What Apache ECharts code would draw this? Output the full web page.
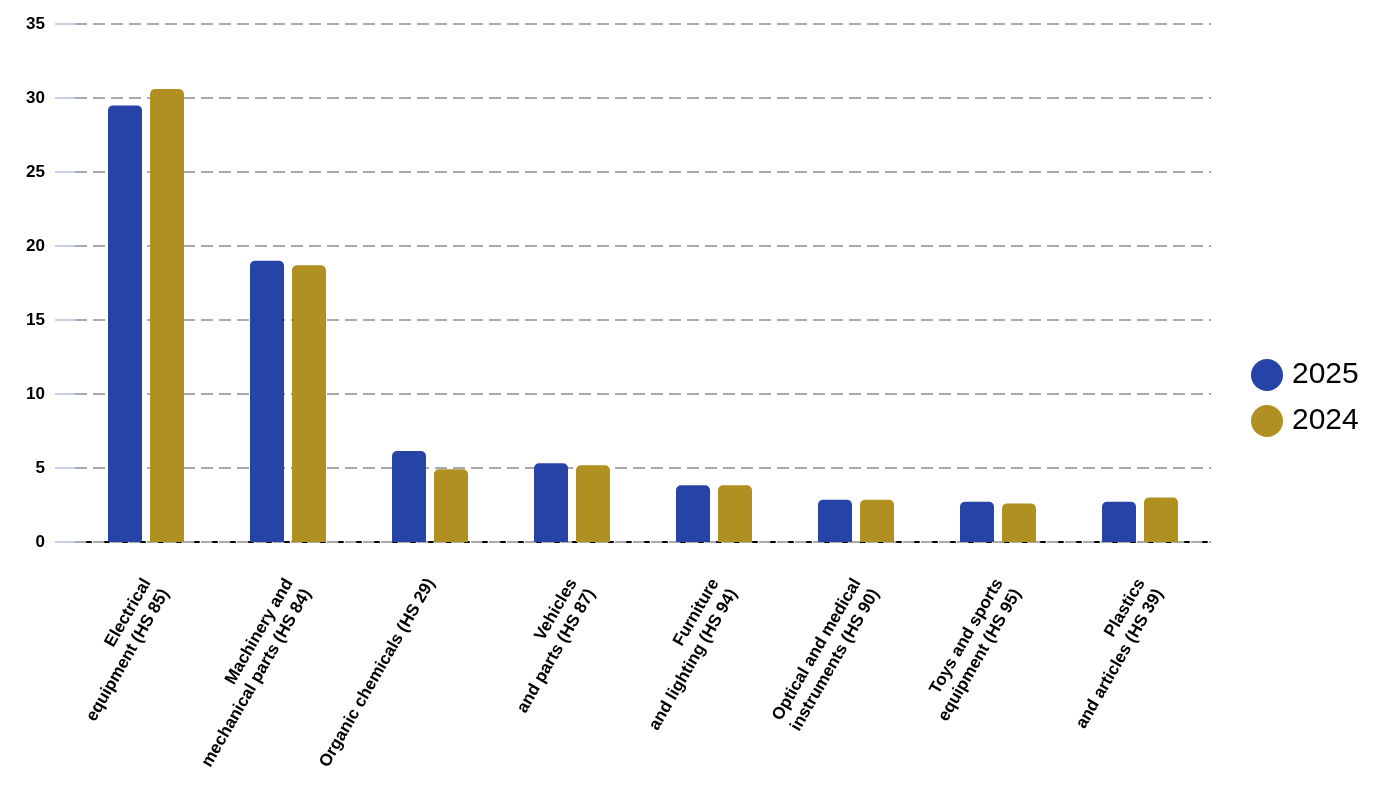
<!DOCTYPE html>
<html>
<head>
<meta charset="utf-8">
<script src="https://cdn.jsdelivr.net/npm/echarts@6/dist/echarts.min.js"></script>
<style>
  html, body { margin: 0; padding: 0; background: #fff; }
  #chart { width: 1381px; height: 788px; }
</style>
</head>
<body>
<div id="chart"></div>
<script>
// categories and values
const categories = [
  'Electrical\nequipment (HS 85)',
  'Machinery and\nmechanical parts (HS 84)',
  'Organic chemicals (HS 29)',
  'Vehicles\nand parts (HS 87)',
  'Furniture\nand lighting (HS 94)',
  'Optical and medical\ninstruments (HS 90)',
  'Toys and sports\nequipment (HS 95)',
  'Plastics\nand articles (HS 39)'
];
const values2025 = [29.5, 19.0, 6.15, 5.32, 3.83, 2.86, 2.72, 2.72];
const values2024 = [30.6, 18.7, 4.92, 5.18, 3.83, 2.86, 2.6, 3.0];
const seriesNames = ['2025', '2024'];
const yTicks = {min: 0, max: 35, interval: 5};

const font = 'Liberation Sans, Arial, sans-serif';
const chart = echarts.init(document.getElementById('chart'), null, {renderer: 'canvas'});

chart.setOption({
  animation: false,
  color: ['#2644A8', '#B09020'],
  grid: {left: 75, right: 170, top: 24, bottom: 246},
  legend: {
    orient: 'vertical',
    left: 1246,
    top: 354,
    icon: 'circle',
    itemWidth: 32,
    itemHeight: 32,
    itemGap: 14,
    textStyle: {fontSize: 30, color: '#000', fontFamily: font, padding: [0, 0, 0, 4]},
    data: seriesNames
  },
  xAxis: {
    type: 'category',
    data: categories,
    axisLine: {lineStyle: {color: '#000', width: 2, type: [4, 14], dashOffset: -12}},
    axisTick: {alignWithLabel: true, length: 20, lineStyle: {color: '#c8d2e6', width: 2}},
    axisLabel: {
      rotate: 60,
      margin: 19,
      padding: [0, 16, 0, 0],
      verticalAlign: 'top',
      interval: 0,
      fontSize: 17,
      lineHeight: 21,
      fontWeight: 'bold',
      color: '#000',
      fontFamily: font
    }
  },
  yAxis: {
    type: 'value',
    min: yTicks.min,
    max: yTicks.max,
    interval: yTicks.interval,
    axisLine: {show: false},
    axisTick: {show: true, length: 20, lineStyle: {color: '#c8d2e6', width: 2}},
    axisLabel: {margin: 30, fontSize: 17, fontWeight: 'bold', color: '#000', fontFamily: font},
    splitLine: {lineStyle: {color: '#aaaaaa', width: 2, type: [12, 6]}}
  },
  series: [
    {
      name: seriesNames[0],
      type: 'bar',
      data: values2025,
      barWidth: 34,
      barGap: '23.5%',
      itemStyle: {borderRadius: [5, 5, 0, 0]}
    },
    {
      name: seriesNames[1],
      type: 'bar',
      data: values2024,
      barWidth: 34,
      itemStyle: {borderRadius: [5, 5, 0, 0]}
    }
  ]
});
</script>
</body>
</html>
